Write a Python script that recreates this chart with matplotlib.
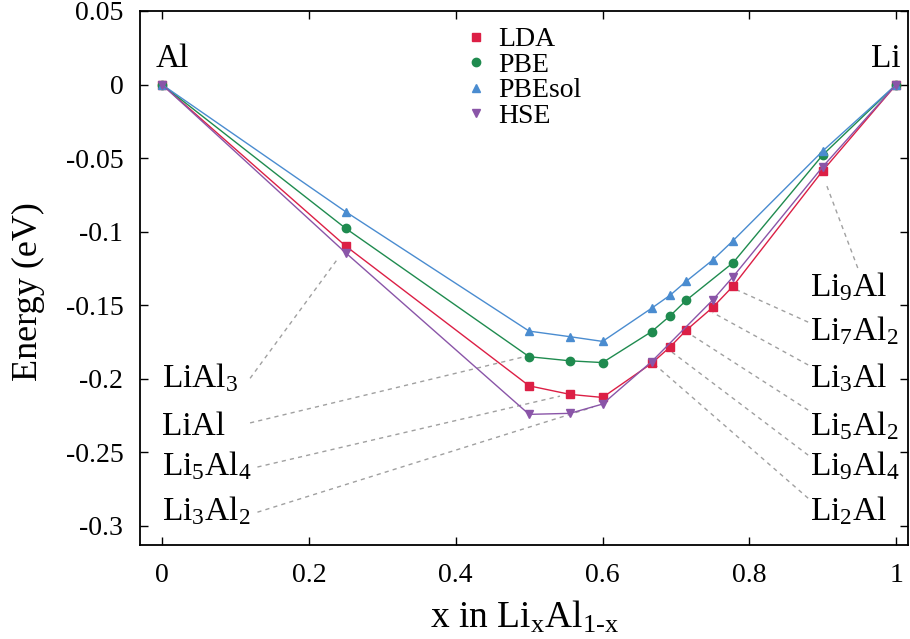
import matplotlib
matplotlib.use("Agg")
import matplotlib.pyplot as plt
from matplotlib.lines import Line2D

plt.rcParams['font.family'] = ['Liberation Serif', 'DejaVu Serif']
plt.rcParams['mathtext.fontset'] = 'custom'
plt.rcParams['mathtext.rm'] = 'Liberation Serif'
plt.rcParams['mathtext.it'] = 'Liberation Serif'
plt.rcParams['axes.unicode_minus'] = False

# formation energies
x_lda = [0, 0.25, 0.5, 0.5556, 0.6, 0.6667, 0.6923, 0.7143, 0.75, 0.7778, 0.9, 1]
e_lda = [0, -0.1097, -0.2048, -0.2106, -0.2127, -0.1896, -0.1782, -0.1669, -0.1515, -0.1370, -0.0585, 0]

x_pbe = [0, 0.25, 0.5, 0.5556, 0.6, 0.6667, 0.6923, 0.7143, 0.7778, 0.9, 1]
e_pbe = [0, -0.0977, -0.1850, -0.1878, -0.1890, -0.1680, -0.1571, -0.1465, -0.1211, -0.0478, 0]

x_pbesol = [0, 0.25, 0.5, 0.5556, 0.6, 0.6667, 0.6923, 0.7143, 0.75, 0.7778, 0.9, 1]
e_pbesol = [0, -0.0864, -0.1676, -0.1714, -0.1746, -0.1521, -0.1431, -0.1336, -0.1193, -0.1061, -0.0451, 0]

x_hse = [0, 0.25, 0.5, 0.5556, 0.6, 0.6667, 0.75, 0.7778, 0.9, 1]
e_hse = [0, -0.1143, -0.2242, -0.2235, -0.2172, -0.1884, -0.1465, -0.1306, -0.0558, 0]

# phase labels: text, text anchor (x, E), line start (x, E), line end (x, E)
phase_names = [r'LiAl$_3$', 'LiAl', r'Li$_5$Al$_4$', r'Li$_3$Al$_2$',
               r'Li$_9$Al', r'Li$_7$Al$_2$', r'Li$_3$Al', r'Li$_5$Al$_2$', r'Li$_9$Al$_4$', r'Li$_2$Al']
phase_text = [(0.0, -0.2054), (0.0, -0.2383), (0.0, -0.2655), (0.0, -0.2961),
              (0.882, -0.144), (0.882, -0.174), (0.882, -0.2054), (0.882, -0.2383), (0.882, -0.2655), (0.882, -0.2961)]
line_from = [(0.120, -0.1997), (0.120, -0.2300), (0.130, -0.2600), (0.130, -0.2907),
             (0.9476, -0.1247), (0.880, -0.1615), (0.880, -0.1906), (0.880, -0.2213), (0.880, -0.2519), (0.880, -0.2812)]
line_to = [(0.240, -0.1180), (0.492, -0.1852), (0.542, -0.2118), (0.587, -0.2193),
           (0.905, -0.0683), (0.7776, -0.1384), (0.750, -0.1550), (0.715, -0.1683), (0.6946, -0.1819), (0.6687, -0.1893)]

fig = plt.figure(figsize=(9.1, 6.39), dpi=100)
ax = fig.add_axes([0.1538, 0.1471, 0.844, 0.8357])

for (x0, y0), (x1, y1) in zip(line_from, line_to):
    ax.plot([x0, x1], [y0, y1], ls=(0, (3, 3)), color='#a0a0a0', lw=1.0, zorder=1)

c_lda, c_pbe, c_pbesol, c_hse = '#dc1f45', '#1f8b4f', '#4a8cd0', '#8a55a8'
ax.plot(x_lda, e_lda, color=c_lda, lw=1.0, marker='s', ms=6, zorder=3)
ax.plot(x_pbe, e_pbe, color=c_pbe, lw=1.0, marker='o', ms=6, zorder=3)
ax.plot(x_pbesol, e_pbesol, color=c_pbesol, lw=1.0, marker='^', ms=6, zorder=3)
ax.plot(x_hse, e_hse, color=c_hse, lw=1.0, marker='v', ms=6, zorder=3)

for name, (tx, ty) in zip(phase_names, phase_text):
    ax.text(tx, ty, name, fontsize=24, ha='left', va='baseline')
ax.text(-0.009, 0.0122, 'Al', fontsize=24, ha='left', va='baseline')
ax.text(0.966, 0.0122, 'Li', fontsize=24, ha='left', va='baseline')

handles = [Line2D([], [], ls='none', marker='s', ms=6, color=c_lda),
           Line2D([], [], ls='none', marker='o', ms=6, color=c_pbe),
           Line2D([], [], ls='none', marker='^', ms=6, color=c_pbesol),
           Line2D([], [], ls='none', marker='v', ms=6, color=c_hse)]
ax.legend(handles, ['LDA', 'PBE', 'PBEsol', 'HSE'], loc='upper left', bbox_to_anchor=(0.423, 0.970),
          frameon=False, fontsize=20, handlelength=0.8, handletextpad=0.4, labelspacing=0.0,
          borderpad=0, borderaxespad=0)

ax.set_xlim(-0.03, 1.016)
ax.set_ylim(-0.313, 0.05)
ax.set_xticks([0, 0.2, 0.4, 0.6, 0.8, 1])
ax.set_xticklabels(['0', '0.2', '0.4', '0.6', '0.8', '1'])
yt = [0.05, 0, -0.05, -0.1, -0.15, -0.2, -0.25, -0.3]
ax.set_yticks(yt)
ax.set_yticklabels(['%g' % v for v in yt])
ax.tick_params(direction='in', length=6, width=1, top=True, right=True, labelsize=20)
ax.tick_params(axis='x', pad=13)
ax.tick_params(axis='y', pad=12)
for s in ax.spines.values():
    s.set_linewidth(1.3)

ax.set_xlabel(r'x in Li$_\mathrm{x}$Al$_\mathrm{1\text{-}x}$', fontsize=27, labelpad=8)
ax.set_ylabel('Energy (eV)', fontsize=26, labelpad=15)
ax.yaxis.label.set_y(0.475)

fig.savefig('out.png', dpi=100)
